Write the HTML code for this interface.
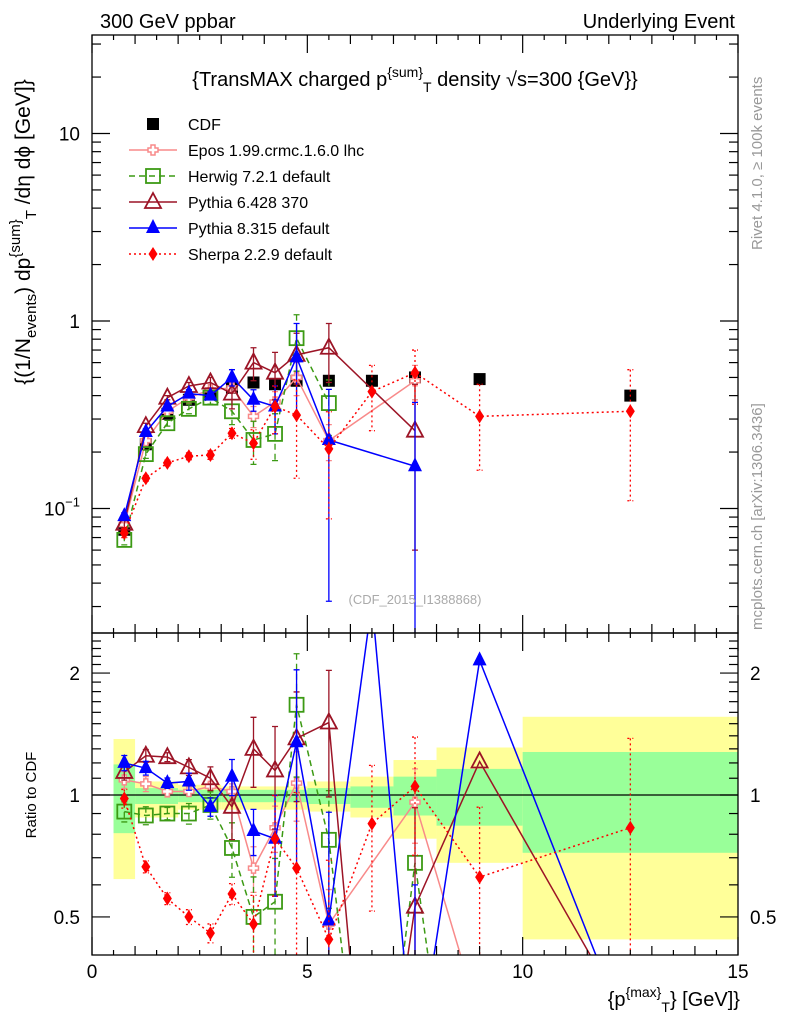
<!DOCTYPE html>
<html><head><meta charset="utf-8"><style>
html,body{margin:0;padding:0;background:#fff;width:786px;height:1024px;overflow:hidden;}
svg{display:block;font-family:"Liberation Sans",sans-serif;}
</style></head><body>
<svg id="c" width="786" height="1024" viewBox="0 0 786 1024" xmlns="http://www.w3.org/2000/svg">
<defs>
<clipPath id="cm"><rect x="92" y="35" width="646" height="598"/></clipPath>
<clipPath id="cr"><rect x="92" y="633" width="646" height="322"/></clipPath>
</defs>
<g id="bands" clip-path="url(#cr)"></g>
<g id="main" clip-path="url(#cm)"></g>
<g id="ratio" clip-path="url(#cr)"></g>
<g id="axes"></g>
<text x="100" y="28" font-size="20">300 GeV ppbar</text>
<text x="735" y="28" font-size="20" text-anchor="end">Underlying Event</text>
<text x="415" y="86" font-size="20" text-anchor="middle">{TransMAX charged p<tspan dy="-9" font-size="14">{sum}</tspan><tspan dy="15" font-size="14">T</tspan><tspan dy="-6"> density √s=300 {GeV}}</tspan></text>
<text x="415" y="604" font-size="13" fill="#aaa" text-anchor="middle">(CDF_2015_I1388868)</text>
<text transform="translate(762,250) rotate(-90)" font-size="15" fill="#999">Rivet 4.1.0, ≥ 100k events</text>
<text transform="translate(762,630) rotate(-90)" font-size="15" fill="#999">mcplots.cern.ch [arXiv:1306.3436]</text>
<text transform="translate(30,232) rotate(-90)" font-size="21" text-anchor="middle">{(1/N<tspan dy="6" font-size="15">events</tspan><tspan dy="-6">) dp</tspan><tspan dy="-10" font-size="15">{sum}</tspan><tspan dy="16" font-size="15">T</tspan><tspan dy="-6"> /dη  dϕ [GeV]}</tspan></text>
<text transform="translate(36,795) rotate(-90)" font-size="15" text-anchor="middle">Ratio to CDF</text>
<text x="740" y="1006" font-size="20" text-anchor="end">{p<tspan dy="-9" font-size="14">{max}</tspan><tspan dy="15" font-size="14">T</tspan><tspan dy="-6">} [GeV]}</tspan></text>
<g id="legend"></g>
</svg>
<script>
const xs = [0.75,1.25,1.75,2.25,2.75,3.25,3.75,4.25,4.75,5.5,6.5,7.5,9,12.5];
const cdf = [0.077,0.22,0.32,0.38,0.41,0.44,0.47,0.46,0.48,0.48,0.48,0.50,0.49,0.40];
const epos = [0.082,0.23,0.33,0.39,0.43,0.44,0.31,0.37,0.50,0.23,null,0.48,null,null];
const herwig = [0.068,0.195,0.285,0.34,0.39,0.33,0.232,0.25,0.81,0.365,null,null,null,null];
const py6 = [0.083,0.275,0.39,0.45,0.47,0.41,0.60,0.53,0.66,0.72,null,0.26,null,null];
const py8 = [0.091,0.256,0.35,0.41,0.40,0.50,0.38,0.35,0.64,0.232,null,0.168,null,null];
const sherpa = [0.074,0.145,0.175,0.19,0.193,0.252,0.223,0.35,0.315,0.208,0.42,0.53,0.31,0.33];
const eposErr = [0.004,0.01,0.01,0.01,0.01,0.02,0.04,0.05,0.1,0.05,0,0.1,0,0];
const herwigErr = [0.004,0.01,0.01,0.02,0.03,0.05,0.06,0.07,0.27,0.12,0,0,0,0];
const py6Err = [0.004,0.01,0.01,0.02,0.03,0.07,0.12,0.15,0.2,0.25,0,0.2,0,0];
const py8Err = [0.004,0.01,0.01,0.02,0.02,0.05,0.05,0.1,0.33,0.2,0,0.2,0,0];
const sherpaErr = [0.004,0.005,0.006,0.008,0.01,0.015,0.04,0.1,0.17,0.12,0.16,0.17,0.15,0.22];
const rEpos = [1.09,1.065,1.02,1.02,1.05,1.02,0.66,0.83,1.07,0.48,null,0.96,0.28,null];
const rHerwig = [0.91,0.89,0.90,0.90,0.945,0.74,0.50,0.545,1.67,0.775,0.1,0.68,0.05,null];
const rPy6 = [1.14,1.25,1.24,1.17,1.10,0.935,1.30,1.15,1.38,1.51,0.1,0.53,1.21,0.27];
const rPy8 = [1.20,1.165,1.07,1.08,0.935,1.11,0.815,0.78,1.35,0.49,3.0,0.2,2.15,0.245];
const rSherpa = [0.98,0.665,0.555,0.50,0.456,0.57,0.48,0.78,0.66,0.44,0.85,1.05,0.627,0.83];
const binEdges = [0.5,1,2,3,5,6,7,8,10,15];
const yellowHi = [1.375,1.08,1.06,1.05,1.08,1.11,1.22,1.31,1.56];
const yellowLo = [0.62,0.88,0.92,0.92,0.91,0.88,0.78,0.68,0.44];
const greenHi = [1.19,1.04,1.03,1.03,1.04,1.05,1.11,1.16,1.277];
const greenLo = [0.805,0.95,0.96,0.96,0.95,0.93,0.89,0.84,0.72];
const xTicks = ["0","5","10","15"];
const yMainTicks = [10,1,0.1];
const yRatioTicks = ["2","1","0.5"];

const NS="http://www.w3.org/2000/svg";
const X=v=>92+646*v/15;
const YM=v=>321-187.5*Math.log10(v);
const YR=v=>795-405*Math.log10(v);
function mk(parent,tag,attrs){const e=document.createElementNS(NS,tag);for(const k in attrs)e.setAttribute(k,attrs[k]);parent.appendChild(e);return e;}
function marker(g,type,cx,cy,col,s){
  let e;
  if(type==='sq'){e=mk(g,'rect',{x:cx-6,y:cy-6,width:12,height:12,fill:'#000'});}
  else if(type==='cross'){e=mk(g,'path',{d:`M${cx-2},${cy-5}h4v3h3v4h-3v3h-4v-3h-3v-4h3z`,fill:'#fff',stroke:col,'stroke-width':1.5});}
  else if(type==='osq'){e=mk(g,'rect',{x:cx-7,y:cy-7,width:14,height:14,fill:'none',stroke:col,'stroke-width':1.8});}
  else if(type==='otri'){e=mk(g,'path',{d:`M${cx},${cy-9}L${cx+8},${cy+6}L${cx-8},${cy+6}Z`,fill:'#fff','fill-opacity':0,stroke:col,'stroke-width':1.8});}
  else if(type==='tri'){e=mk(g,'path',{d:`M${cx},${cy-9}L${cx+7},${cy+5}L${cx-7},${cy+5}Z`,fill:col});}
  else {e=mk(g,'path',{d:`M${cx},${cy-7}L${cx+4.5},${cy}L${cx},${cy+7}L${cx-4.5},${cy}Z`,fill:col});}
  
  
}
const series=[
 {n:'epos',v:epos,e:eposErr,r:rEpos,col:'#f88a8a',dash:'',m:'cross',lbl:'Epos 1.99.crmc.1.6.0 lhc'},
 {n:'herwig',v:herwig,e:herwigErr,r:rHerwig,col:'#3c9a14',dash:'6,4',m:'osq',lbl:'Herwig 7.2.1 default'},
 {n:'pythia6',v:py6,e:py6Err,r:rPy6,col:'#9c1426',dash:'',m:'otri',lbl:'Pythia 6.428 370'},
 {n:'pythia8',v:py8,e:py8Err,r:rPy8,col:'#0000ff',dash:'',m:'tri',lbl:'Pythia 8.315 default'},
 {n:'sherpa',v:sherpa,e:sherpaErr,r:rSherpa,col:'#ff0000',dash:'2,3',m:'dia',lbl:'Sherpa 2.2.9 default'}
];
const B=document.getElementById('bands');
for(let i=0;i<binEdges.length-1;i++){
  const x0=X(binEdges[i]),x1=X(binEdges[i+1]);
  let r=mk(B,'rect',{x:x0,y:YR(yellowHi[i]),width:x1-x0,height:YR(yellowLo[i])-YR(yellowHi[i]),fill:'#ffff99'});
  
  
  r=mk(B,'rect',{x:x0,y:YR(greenHi[i]),width:x1-x0,height:YR(greenLo[i])-YR(greenHi[i]),fill:'#99ff99'});
  
  
}
const l1=mk(B,'line',{x1:92,x2:738,y1:YR(1),y2:YR(1),stroke:'#000','stroke-width':1.3});


const M=document.getElementById('main'),R=document.getElementById('ratio');
xs.forEach((x,i)=>{marker(M,'sq',X(x),YM(cdf[i]),'#000','cdf');});
series.forEach(s=>{
  const gm=mk(M,'g',{});
  const gr=mk(R,'g',{});
  let pts=[];
  xs.forEach((x,i)=>{if(s.v[i]!=null)pts.push([X(x),YM(s.v[i])]);});
  const pl=mk(gm,'polyline',{points:pts.map(p=>p.join(',')).join(' '),fill:'none',stroke:s.col,'stroke-width':1.5,'stroke-dasharray':s.dash});
  
  
  let rp=[];
  xs.forEach((x,i)=>{if(s.r[i]!=null)rp.push([X(x),YR(s.r[i])]);});
  const rl=mk(gr,'polyline',{points:rp.map(p=>p.join(',')).join(' '),fill:'none',stroke:s.col,'stroke-width':1.5,'stroke-dasharray':s.dash});
  
  
  xs.forEach((x,i)=>{
    const v=s.v[i];if(v==null)return;
    const e=s.e[i];
    if(e>0){
      const lo=Math.max(v-e,0.001);
      const eb=mk(gm,'path',{d:`M${X(x)},${YM(v+e)}V${YM(lo)}M${X(x)-3},${YM(v+e)}h6M${X(x)-3},${YM(lo)}h6`,stroke:s.col,'stroke-width':1.3,'stroke-dasharray':s.dash,fill:'none'});
      
      
      const r=s.r[i];
      if(r!=null){
        const re=e/cdf[i];const rlo=Math.max(r-re,0.01);
        const er=mk(gr,'path',{d:`M${X(x)},${YR(r+re)}V${YR(rlo)}M${X(x)-3},${YR(r+re)}h6M${X(x)-3},${YR(rlo)}h6`,stroke:s.col,'stroke-width':1.3,'stroke-dasharray':s.dash,fill:'none'});
        
        
      }
    }
    marker(gm,s.m,X(x),YM(v),s.col,s.n);
  });
  xs.forEach((x,i)=>{if(s.r[i]!=null)marker(gr,s.m,X(x),YR(s.r[i]),s.col,s.n+'-ratio');});
});
const A=document.getElementById('axes');
function ln(x1,y1,x2,y2,n){const l=mk(A,'line',{x1,y1,x2,y2,stroke:'#000','stroke-width':1.2});}
let fr=mk(A,'rect',{x:92,y:35,width:646,height:598,fill:'none',stroke:'#000','stroke-width':1.3});

fr=mk(A,'rect',{x:92,y:633,width:646,height:322,fill:'none',stroke:'#000','stroke-width':1.3});

for(let v=0;v<=15.001;v+=0.5){
  const major=Math.abs(v-Math.round(v/5)*5)<0.01;const mid=Math.abs(v-Math.round(v))<0.01;
  const L=major?18:(mid?9:5);const x=X(v);
  ln(x,955,x,955-L,'x-tick');ln(x,633,x,633-L,'x-tick');ln(x,633,x,633+L,'x-tick');ln(x,35,x,35+L,'x-tick');
}
xTicks.forEach((t,i)=>{const tx=mk(A,'text',{x:X(+t),y:978,'font-size':19,'text-anchor':'middle'});tx.textContent=t;});
for(let d=-2;d<=1;d++){for(let k=1;k<10;k++){const v=k*Math.pow(10,d);const y=YM(v);if(y<35||y>633)continue;const L=k==1?18:9;ln(92,y,92+L,y,'y-tick');ln(738,y,738-L,y,'y-tick');}}
yMainTicks.forEach(v=>{
  const tx=mk(A,'text',{x:80,y:YM(v)+7,'font-size':19,'text-anchor':'end'});
  if(v>=1)tx.textContent=String(v);else{tx.textContent='10';const ts=mk(tx,'tspan',{dy:-9,'font-size':13});ts.textContent='−1';}
  
});
[0.5,0.6,0.7,0.8,0.9,1,1.1,1.2,1.3,1.4,1.5,1.6,1.7,1.8,1.9,2,2.1,2.2,2.3,2.4].forEach(v=>{const y=YR(v);const L=(v==0.5||v==1||v==2)?18:9;ln(92,y,92+L,y,'ratio-y-tick');ln(738,y,738-L,y,'ratio-y-tick');});
yRatioTicks.forEach(t=>{
  let tx=mk(A,'text',{x:80,y:YR(+t)+7,'font-size':19,'text-anchor':'end'});tx.textContent=t;
  tx=mk(A,'text',{x:750,y:YR(+t)+7,'font-size':19});tx.textContent=t;
});
const G=document.getElementById('legend');
marker(G,'sq',153,124,'#000','legend-cdf');
let lt=mk(G,'text',{x:188,y:130,'font-size':16});lt.textContent='CDF';
series.forEach((s,i)=>{
  const y=150+26*i;
  const l=mk(G,'line',{x1:129,x2:177,y1:y,y2:y,stroke:s.col,'stroke-width':1.5,'stroke-dasharray':s.dash});
  
  marker(G,s.m,153,y,s.col,'legend-'+s.n);
  const t=mk(G,'text',{x:188,y:y+6,'font-size':16});t.textContent=s.lbl;
});
</script>
</body></html>
